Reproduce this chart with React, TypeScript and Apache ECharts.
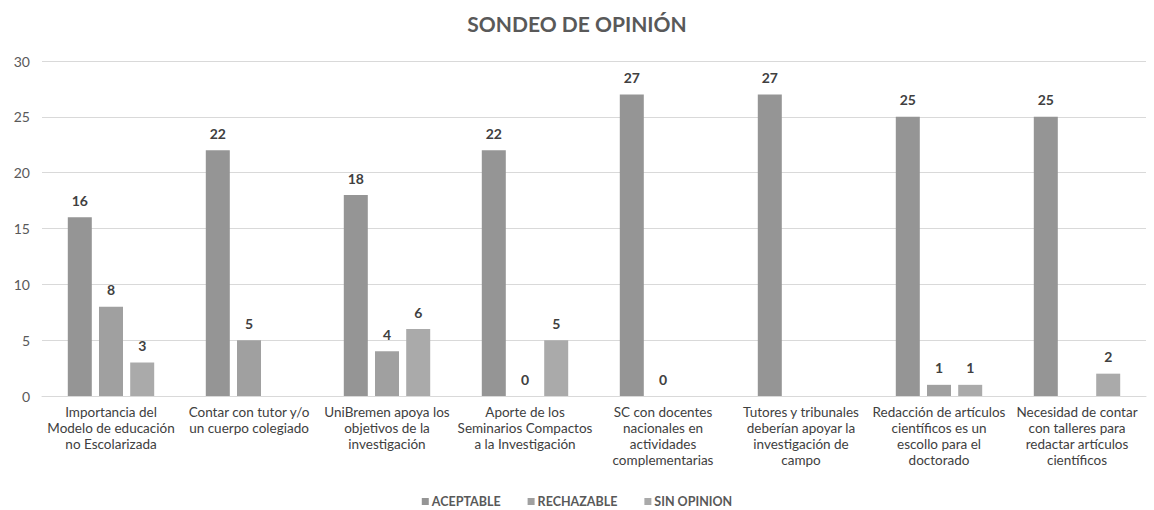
import React, { useEffect, useRef } from "react";
import * as echarts from "echarts";

const categories = [
  "Importancia del\nModelo de educación\nno Escolarizada",
  "Contar con tutor y/o\nun cuerpo colegiado",
  "UniBremen apoya los\nobjetivos de la\ninvestigación",
  "Aporte de los\nSeminarios Compactos\na la Investigación",
  "SC con docentes\nnacionales en\nactividades\ncomplementarias",
  "Tutores y tribunales\ndeberían apoyar la\ninvestigación de\ncampo",
  "Redacción de artículos\ncientíficos es un\nescollo para el\ndoctorado",
  "Necesidad de contar\ncon talleres para\nredactar artículos\ncientíficos",
];
const aceptable = [16, 22, 18, 22, 27, 27, 25, 25];
const rechazable: (number | null)[] = [8, 5, 4, 0, 0, null, 1, null];
const sinOpinion: (number | null)[] = [3, null, 6, 5, null, null, 1, 2];
const seriesNames = ["ACEPTABLE", "RECHAZABLE", "SIN OPINION"];
const colors = ["#959595", "#a0a0a0", "#aaaaaa"];

const FONT = "Lato, 'Open Sans', sans-serif";

export default function App() {
  const ref = useRef<HTMLDivElement>(null);
  useEffect(() => {
    const chart = echarts.init(ref.current!, null, { renderer: "svg" });
    const label = {
      show: true,
      position: "top" as const,
      distance: 10,
      fontFamily: FONT,
      fontSize: 14,
      fontWeight: "bold" as const,
      color: "#404040",
    };
    const datas = [aceptable, rechazable, sinOpinion];
    chart.setOption({
      animation: false,
      textStyle: { fontFamily: FONT },
      title: {
        text: "SONDEO DE OPINIÓN",
        left: "center",
        top: 8,
        textStyle: { fontFamily: FONT, fontSize: 21, fontWeight: "bold", color: "#595959" },
      },
      legend: {
        top: 495,
        left: "center",
        padding: 0,
        itemWidth: 7,
        itemHeight: 7,
        itemGap: 27,
        icon: "rect",
        textStyle: { fontFamily: FONT, fontSize: 12.5, fontWeight: "bold", color: "#595959", padding: [0, 0, 0, -2] },
        data: seriesNames,
      },
      grid: { left: 42, right: 8, top: 61, bottom: 114, containLabel: false },
      xAxis: {
        type: "category",
        data: categories,
        axisLine: { show: true, lineStyle: { color: "#d9d9d9", width: 1 } },
        axisTick: { show: false },
        axisLabel: {
          interval: 0,
          fontFamily: FONT,
          fontSize: 13.5,
          color: "#404040",
          lineHeight: 16,
          margin: 8,
        },
      },
      yAxis: {
        type: "value",
        min: 0,
        max: 30,
        interval: 5,
        axisLine: { show: false },
        axisTick: { show: false },
        splitLine: { lineStyle: { color: "#d9d9d9", width: 1 } },
        axisLabel: { fontFamily: FONT, fontSize: 14, color: "#595959", margin: 12 },
      },
      series: seriesNames.map((name, i) => ({
        name,
        type: "bar",
        data: datas[i],
        barWidth: 24,
        barGap: "30%",
        barCategoryGap: "38%",
        itemStyle: { color: colors[i] },
        label,
      })),
    });
    return () => chart.dispose();
  }, []);
  return (
    <div
      ref={ref}
      style={{ position: "fixed", left: 0, top: 0, width: 1154, height: 510, background: "#fff" }}
    />
  );
}
